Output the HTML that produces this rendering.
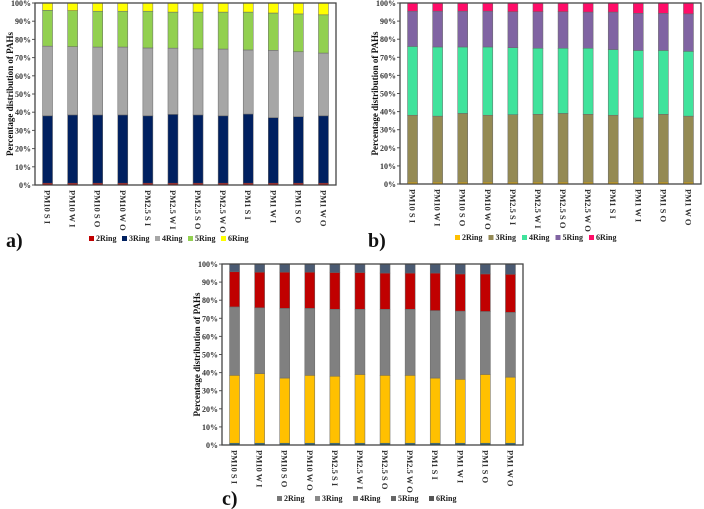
<!DOCTYPE html>
<html><head><meta charset="utf-8"><style>
html,body{margin:0;padding:0;background:#fff;width:704px;height:509px;overflow:hidden}
svg{position:absolute;left:0;top:0}
text{font-family:"Liberation Serif",serif;font-weight:bold}
</style></head><body>
<svg id="s" width="704" height="509" viewBox="0 0 704 509"></svg>
<script>
const categories=["PM10 S I","PM10 W I","PM10 S O","PM10 W O","PM2.5 S I","PM2.5 W I","PM2.5 S O","PM2.5 W O","PM1 S I","PM1 W I","PM1 S O","PM1 W O"];
const seriesNames=["2Ring","3Ring","4Ring","5Ring","6Ring"];
const yTicks=["0%","10%","20%","30%","40%","50%","60%","70%","80%","90%","100%"];
const a2=[1,1,1,1,1,1,1,1,1,1,1,1];
const a3=[37,37.5,37.5,37.5,37,37.8,37.5,37,38,36,36.5,37];
const a4=[38.3,37.5,37.3,37.3,37.3,36.4,36.3,36.7,35.2,37,35.7,34.5];
const a5=[19.7,19.8,19.7,19.7,20.2,19.8,20.2,20.3,20.8,20.5,20.8,21];
const a6=[4,4.2,4.5,4.5,4.5,5,5,5,5,5.5,6,6.5];
const b2=[1,1,1,1,1,1,1,1,1,1,1,1];
const b3=[37,36.5,38,37,37.3,37.5,38,37.5,37,35.5,37.5,36.5];
const b4=[38,38.2,36.7,37.7,37,36.5,36,36.5,36.3,37.3,35.3,35.8];
const b5=[19.5,19.8,19.8,19.8,19.9,20.2,20.2,20,20.7,20.5,20.5,20.7];
const b6=[4.5,4.5,4.5,4.5,4.8,4.8,4.8,5,5,5.7,5.7,6];
const c2=[1,1,1,1,1,1,1,1,1,1,1,1];
const c3=[37.5,38.5,36,37.5,37,38,37.5,37.5,36,35.3,38,36.5];
const c4=[37.8,36.3,38.5,37,37,36,36.5,36.5,37.3,37.7,34.8,35.8];
const c5=[19.4,19.7,20,20,20.3,20.3,20,20,20.7,20.5,20.7,21];
const c6=[4.3,4.5,4.5,4.5,4.7,4.7,5,5,5,5.5,5.5,5.7];

const NS="http://www.w3.org/2000/svg";
const svg=document.getElementById('s');
function mk(tag,attrs,parent){const e=document.createElementNS(NS,tag);for(const k in attrs)e.setAttribute(k,attrs[k]);(parent||svg).appendChild(e);return e;}

function panel(id,x0,x1,y0,y1,series,colors,legendColors,legendX,legendY,legStep,letter,lx,ly){
  const g=mk('g',{});
  
  
  const yS=v=>y1-(v/100)*(y1-y0);
  const step=(x1-x0)/categories.length;
  const bw=10;
  yTicks.forEach((t,i)=>{
    const y=yS(i*10);
    const tl=mk('text',{x:x0-4,y:y+3,'text-anchor':'end','font-size':8,fill:'#333'},g);
    tl.textContent=t;
    
    
    mk('line',{x1:x0-3,x2:x0,y1:y,y2:y,stroke:'#555','stroke-width':1},g);
  });
  const yt=mk('text',{x:0,y:0,'text-anchor':'middle','font-size':9,fill:'#111',transform:`translate(${x0-22},${(y0+y1)/2}) rotate(-90)`},g);
  yt.textContent='Percentage distribution  of PAHs';
  
  
  categories.forEach((c,i)=>{
    const cx=x0+step*(i+0.5);
    let cum=0;
    series.forEach((arr,k)=>{
      const v=arr[i];
      const r=mk('rect',{x:cx-bw/2,y:yS(cum+v),width:bw,height:yS(cum)-yS(cum+v),fill:colors[k],stroke:'#666','stroke-width':0.5},g);
      
      
      cum+=v;
    });
    const cl=mk('text',{x:0,y:0,'font-size':8.5,fill:'#333','font-weight':'normal',transform:`translate(${cx-3},${y1+5}) rotate(90)`},g);
    cl.textContent=c;
    
    
  });
  mk('rect',{x:x0,y:y0,width:x1-x0,height:y1-y0,fill:'none',stroke:'#444','stroke-width':1.3},g);
  let lxp=legendX;
  seriesNames.forEach((n,k)=>{
    const le=mk('g',{},g);
    
    
    mk('rect',{x:lxp,y:legendY-5,width:5,height:5,fill:legendColors[k]},le);
    const t=mk('text',{x:lxp+7,y:legendY,'font-size':8,fill:'#222'},le);
    t.textContent=n;
    lxp+=legStep;
  });
  const L=mk('text',{x:lx,y:ly,'font-size':20,fill:'#111'},g);
  L.textContent=letter;
  
  
}
const ca=['#c00000','#002060','#a6a6a6','#92d050','#ffff00'];
const cb=['#ffc000','#948a54','#40e39c','#8064a2','#ff0d68'];
const cc=['#1f6f7f','#ffc000','#808080','#c00000','#4a5a72'];
panel('chart-a',35,336,3,185,[a2,a3,a4,a5,a6],ca,ca,89,241,33,'a)',6,247);
panel('chart-b',400,701,3,184,[b2,b3,b4,b5,b6],cb,cb,455,240,33.5,'b)',368,247);
panel('chart-c',222,523,264,445,[c2,c3,c4,c5,c6],cc,['#777','#888','#777','#666','#555'],277,501,38,'c)',222,505);
</script>
</body></html>
